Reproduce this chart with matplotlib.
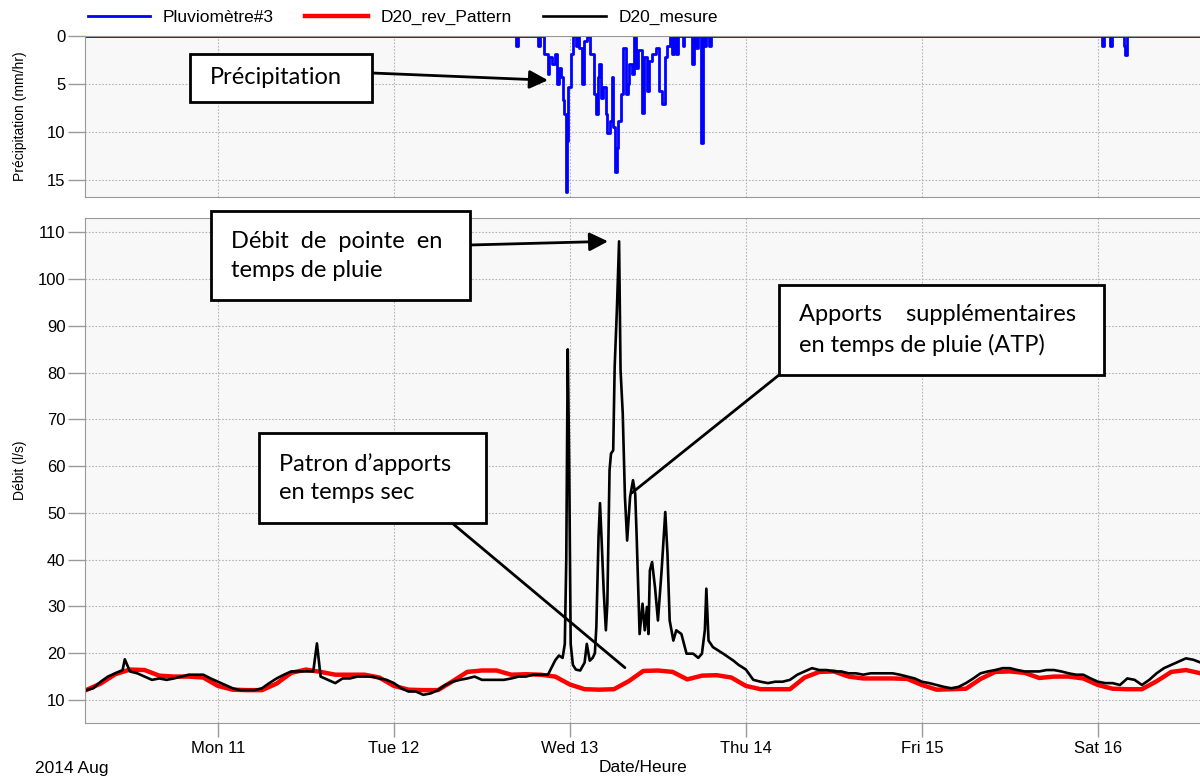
import matplotlib
matplotlib.use("Agg")
import matplotlib.pyplot as plt
import matplotlib.dates as mdates
from matplotlib.patches import Rectangle
import pandas as pd

# time origin of the series
start = pd.Timestamp("2014-08-10 06:00")
storm = pd.Timestamp("2014-08-13 00:00")

# dry weather pattern (D20_rev_Pattern), every 2 h from start
pattern_hours = list(range(0, 153, 2))
pattern_vals = [12.1, 13.5, 15.5, 16.5, 16.4, 15.2, 15.0, 15.0, 14.8, 13.0,
                12.2, 12.1, 12.1, 13.5, 15.8, 16.5, 16.0, 15.4, 15.4, 15.4, 14.8, 13.0,
                12.2, 12.1, 12.1, 14.0, 16.0, 16.3, 16.3, 15.4, 15.5, 15.4, 15.0, 13.3,
                12.3, 12.2, 12.3, 14.0, 16.2, 16.3, 16.0, 14.4, 15.2, 15.3, 14.8, 13.0,
                12.3, 12.3, 12.3, 14.8, 16.0, 16.1, 15.0, 14.6, 14.6, 14.6, 14.5, 13.2,
                12.2, 12.3, 12.4, 14.5, 16.0, 16.1, 15.8, 14.7, 15.0, 15.0, 14.6, 13.2,
                12.4, 12.3, 12.3, 14.0, 16.0, 16.4, 15.7]

# measured flow (D20_mesure) before the storm, hourly from start
dry1_hours = list(range(0, 64))
dry1_vals = [12.1, 12.5, 13.9, 15.0, 15.7, 16.4, 16.1, 15.7, 15.0, 14.3,
             14.6, 14.3, 14.6, 15.0, 15.4, 15.4, 15.4, 14.6, 13.9, 13.2,
             12.5, 12.1, 12.1, 12.1, 12.5, 13.6, 14.6, 15.4, 16.1, 16.1,
             16.1, 16.1, 15.0, 14.3, 13.6, 14.6, 14.6, 15.0, 15.0, 15.0,
             14.6, 14.3, 13.6, 12.5, 11.8, 11.8, 11.1, 11.4, 12.1, 13.2,
             13.9, 14.3, 14.6, 15.0, 14.3, 14.3, 14.3, 14.3, 14.6, 15.0,
             15.0, 15.4, 15.4, 15.4]
# spikes in dry weather
spike_hours = [5.3, 31.5]
spike_vals = [18.7, 22.1]

# storm period, hours relative to Wed 13 00:00
storm_hours = [-2, -1.5, -1, -0.7, -0.5, -0.3, -0.1, 0.1, 0.4, 0.8, 1.4, 2.0, 2.3,
               2.7, 3.1, 3.4, 3.6, 3.9, 4.1, 4.3, 4.6, 4.9, 5.1, 5.4, 5.6, 5.9, 6.1,
               6.4, 6.7, 6.9, 7.2, 7.5, 7.8, 8.2, 8.6, 8.9, 9.1, 9.5, 9.9, 10.2, 10.5,
               10.7, 10.9, 11.2, 11.6, 12.0, 12.5, 13.0, 13.3, 13.6, 14.1, 14.5, 15.2,
               15.9, 16.8, 17.5, 18.0, 18.4, 18.6, 18.9, 19.5, 20.9, 22.3, 23.0, 24.0]
storm_vals = [18.5, 19.5, 19.0, 22.0, 40.0, 85.0, 60.0, 22.0, 17.5, 16.5, 16.3, 18.0, 22.0,
              18.4, 19.0, 20.0, 25.6, 44.9, 52.1, 44.9, 33.4, 24.9, 30.6, 59.1, 62.7, 63.4, 81.3,
              93.4, 108.1, 80.6, 71.3, 53.4, 44.1, 53.4, 57.0, 54.1, 44.9, 24.1, 30.6, 24.9, 29.9,
              24.1, 37.7, 39.5, 34.1, 27.0, 37.7, 50.2, 41.3, 27.0, 22.7, 24.9, 24.1,
              19.9, 19.9, 19.0, 19.9, 25.0, 33.8, 22.7, 21.3, 19.9, 18.4, 17.5, 16.5]

# after the storm, hourly from start
dry2_hours = list(range(91, 153))
dry2_vals = [14.3, 13.9, 13.6, 13.9, 13.9, 14.3, 15.4, 16.1, 16.8, 16.4,
             16.4, 16.1, 16.1, 15.7, 15.7, 15.4, 15.7, 15.7, 15.7, 15.7,
             15.4, 15.0, 14.6, 13.9, 13.6, 13.2, 12.8, 12.5, 12.8, 13.6,
             14.6, 15.7, 16.1, 16.4, 16.8, 16.8, 16.4, 16.1, 16.1, 16.1,
             16.4, 16.4, 16.1, 15.7, 15.4, 15.4, 14.6, 13.9, 13.6, 13.6,
             13.2, 14.6, 14.3, 13.2, 14.3, 15.7, 16.8, 17.5, 18.2, 18.9,
             18.6, 18.0]

# rain intensity (Pluviomètre#3), hours relative to Wed 13 00:00
rain_hours = [-66, -7.5, -7.3, -7.1, -4.5, -4.3, -4.1, -3.6, -3.0, -2.8, -2.4, -2.1,
              -1.7, -1.5, -1.2, -0.95, -0.75, -0.6, -0.45, -0.25, 0.1, 0.4, 0.8, 1.1,
              1.3, 1.7, 1.9, 2.3, 2.8, 3.3, 3.5, 3.8, 4.0, 4.2, 4.5, 4.9, 5.1, 5.4,
              5.7, 5.9, 6.2, 6.4, 6.6, 6.9, 7.3, 7.6, 7.9, 8.1, 8.4, 8.8, 9.0, 9.3,
              9.8, 10.1, 10.5, 10.8, 11.2, 11.7, 12.2, 12.5, 12.9, 13.2, 13.6, 13.9,
              14.2, 14.5, 14.8, 15.4, 15.6, 16.7, 16.9, 17.2, 17.4, 17.9, 18.1, 18.3,
              18.5, 19.0, 19.2, 72.5, 72.85, 73.6, 73.95, 75.6, 75.7, 76.0, 87]
rain_vals = [0, 0, 1.0, 0, 0, 1.0, 0, 1.9, 4.0, 2.2, 2.9, 1.9,
             5.0, 3.3, 4.3, 6.7, 8.1, 16.2, 10.9, 5.3, 1.9, 0, 1.0, 0,
             1.2, 5.0, 0.5, 0, 1.9, 6.0, 8.1, 4.3, 2.9, 6.4, 5.3, 8.1, 10.1, 8.8,
             4.3, 9.5, 14.1, 11.6, 8.8, 6.0, 1.2, 6.0, 5.0, 2.9, 4.0, 0.1, 3.3, 1.5,
             8.0, 2.2, 5.7, 2.6, 1.9, 1.2, 5.7, 7.1, 2.2, 1.0, 0, 1.9,
             0, 1.9, 0, 1.0, 0, 2.9, 0, 1.2, 0, 11.1, 0, 1.0,
             0, 1.0, 0, 1.0, 0, 1.0, 0, 1.0, 2.0, 0, 0]

pattern_t = start + pd.to_timedelta(pattern_hours, unit="h")
meas = pd.Series(dry1_vals + storm_vals + dry2_vals + spike_vals,
                 index=list(start + pd.to_timedelta(dry1_hours, unit="h"))
                 + list(storm + pd.to_timedelta(storm_hours, unit="h"))
                 + list(start + pd.to_timedelta(dry2_hours, unit="h"))
                 + list(start + pd.to_timedelta(spike_hours, unit="h"))).sort_index()
rain_t = storm + pd.to_timedelta(rain_hours, unit="h")

plt.rcParams["font.family"] = ["Liberation Sans", "DejaVu Sans"]
fig = plt.figure(figsize=(12, 7.76), dpi=100)
ax1 = fig.add_axes([0.0708, 0.7461, 0.9292, 0.2075])
ax2 = fig.add_axes([0.0708, 0.0683, 0.9292, 0.6508])

xmin = pd.Timestamp("2014-08-10 05:52")
xmax = pd.Timestamp("2014-08-16 13:55")
grid_kw = dict(color="#b4b4b4", linestyle=(0, (1.5, 1.5)), linewidth=0.8)

for ax in (ax1, ax2):
    ax.set_facecolor("#f8f8f8")
    ax.set_xlim(xmin, xmax)
    ax.xaxis.set_major_locator(mdates.DayLocator())
    ax.xaxis.set_major_formatter(mdates.DateFormatter("%a %d"))
    ax.grid(True, **grid_kw)
    ax.set_axisbelow(True)
    ax.spines["right"].set_visible(False)
    for s in ("left", "bottom", "top"):
        ax.spines[s].set_color("#999999")
    ax.tick_params(axis="y", length=12, width=1, color="#999999", pad=2, labelsize=12)
    ax.tick_params(axis="x", length=10, width=1, color="#999999", pad=3, labelsize=12)

# precipitation panel
l_rain, = ax1.plot(rain_t, rain_vals, color="blue", lw=2, drawstyle="steps-post")
ax1.set_ylim(16.75, 0)
ax1.set_yticks([0, 5, 10, 15])
ax1.tick_params(axis="x", labelbottom=False, length=0)
ax1.set_ylabel("Précipitation (mm/hr)", fontsize=10)
ax1.yaxis.set_label_coords(-0.052, 0.5)

# flow panel
l_pat, = ax2.plot(pattern_t, pattern_vals, color="red", lw=3.2)
l_meas, = ax2.plot(meas.index, meas.values, color="black", lw=1.9)
ax2.set_ylim(5.07, 113.1)
ax2.set_yticks(range(10, 111, 10))
ax2.set_ylabel("Débit (l/s)", fontsize=10)
ax2.yaxis.set_label_coords(-0.052, 0.5)

fig.text(35 / 1200, 1 - 768 / 776, "2014 Aug", fontsize=12.5, va="center")
fig.text(643 / 1200, 1 - 768 / 776, "Date/Heure", fontsize=12.5, va="center", ha="center")

fig.legend([l_rain, l_pat, l_meas], ["Pluviomètre#3", "D20_rev_Pattern", "D20_mesure"],
           loc="center left", bbox_to_anchor=(0.073, 0.978), ncol=3, frameon=False,
           fontsize=12.5, handlelength=3.6, handletextpad=0.75, columnspacing=1.8,
           borderaxespad=0, borderpad=0)

# callout boxes
box_font = dict(family=["Lato", "DejaVu Sans"], fontsize=17, color="black")
boxes = [
    ((190, 54, 372, 102), (210, 78), "Précipitation"),
    ((211, 211, 470, 300), (231, 256), "Débit  de  pointe  en\ntemps de pluie"),
    ((779, 285, 1104, 375), (799, 330), "Apports    supplémentaires\nen temps de pluie (ATP)"),
    ((259, 433, 486, 523), (279, 478), "Patron d’apports\nen temps sec"),
]
for (x0, y0, x1, y1), (tx, ty), txt in boxes:
    fig.patches.append(Rectangle((x0 / 1200, 1 - y1 / 776), (x1 - x0) / 1200, (y1 - y0) / 776,
                                 transform=fig.transFigure, facecolor="white",
                                 edgecolor="black", lw=2, zorder=5))
    fig.text(tx / 1200, 1 - ty / 776, txt, va="center", ha="left", linespacing=1.45,
             zorder=6, **box_font)

arrow = dict(arrowstyle="-|>", color="black", lw=2, mutation_scale=28, shrinkA=0, shrinkB=0)
plain = dict(arrowstyle="-", color="black", lw=2, shrinkA=0, shrinkB=0)
ax1.annotate("", xy=(storm + pd.Timedelta(hours=-3.0), 4.6), xycoords="data",
             xytext=(372 / 1200, 1 - 73 / 776), textcoords="figure fraction",
             arrowprops=arrow, annotation_clip=False)
ax2.annotate("", xy=(storm + pd.Timedelta(hours=5.2), 108.1), xycoords="data",
             xytext=(470 / 1200, 1 - 245 / 776), textcoords="figure fraction",
             arrowprops=arrow, annotation_clip=False)
ax2.annotate("", xy=(storm + pd.Timedelta(hours=8.45), 54.3), xycoords="data",
             xytext=(779 / 1200, 1 - 375 / 776), textcoords="figure fraction",
             arrowprops=plain, annotation_clip=False)
ax2.annotate("", xy=(storm + pd.Timedelta(hours=7.5), 16.9), xycoords="data",
             xytext=(452 / 1200, 1 - 523 / 776), textcoords="figure fraction",
             arrowprops=plain, annotation_clip=False)

fig.savefig("out.png", dpi=100)
